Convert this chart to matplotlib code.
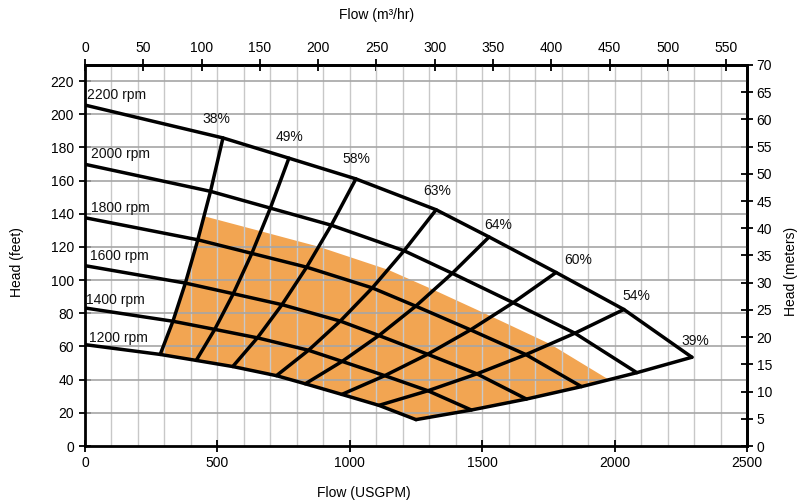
import matplotlib
matplotlib.use('Agg')
import matplotlib.pyplot as plt
import numpy as np

plt.rcParams['font.family'] = ['Liberation Sans', 'DejaVu Sans']
plt.rcParams['font.size'] = 10

# ---- data (flow USGPM, head ft) ----
speeds = [2200, 2000, 1800, 1600, 1400, 1200]
# index 0 = shut-off, then points at efficiency 38,49,58,63,64,60,54,39 %
eff_labels = ['38%', '49%', '58%', '63%', '64%', '60%', '54%', '39%']

flow_2200 = [0, 521, 770, 1023, 1326, 1526, 1779, 2035, 2292]
head_2200 = [205.5, 185.7, 173.5, 161.0, 142.4, 126.0, 104.6, 82.3, 53.5]
flow_2000 = [0, 474, 700, 930, 1205, 1387, 1617, 1850, 2084]
head_2000 = [169.8, 153.5, 143.4, 133.1, 117.7, 104.1, 86.4, 68.0, 44.2]
flow_1800 = [0, 426, 630, 837, 1085, 1249, 1456, 1665, 1875]
head_1800 = [137.6, 124.3, 116.1, 107.8, 95.3, 84.3, 70.0, 55.1, 35.8]
flow_1600 = [0, 379, 560, 744, 964, 1110, 1294, 1480, 1667]
head_1600 = [108.7, 98.2, 91.8, 85.2, 75.3, 66.6, 55.3, 43.5, 28.3]
flow_1400 = [0, 332, 490, 651, 844, 971, 1132, 1295, 1459]
head_1400 = [83.2, 75.2, 70.3, 65.2, 57.7, 51.0, 42.4, 33.3, 21.7]
flow_1200 = [0, 284, 420, 558, 723, 832, 970, 1110, 1250]
head_1200 = [61.1, 55.2, 51.6, 47.9, 42.4, 37.5, 31.1, 24.5, 15.9]

# upper edge of the shaded (orange) operating region
flow_region_top = [450, 665, 883, 1145, 1318, 1536, 1757, 1979]
head_region_top = [138.5, 129.4, 120.1, 106.2, 94.0, 78.0, 61.4, 39.9]

flows = [flow_2200, flow_2000, flow_1800, flow_1600, flow_1400, flow_1200]
heads = [head_2200, head_2000, head_1800, head_1600, head_1400, head_1200]

FT_PER_M = 1 / 0.3048
GPM_PER_M3H = 4.4029

# ---- figure ----
fig = plt.figure(figsize=(7.99, 5.04), dpi=100)
ax = fig.add_axes([85/799, 1-446/504, (747-85)/799, (446-65)/504])
ax.set_xlim(0, 2500)
ax.set_ylim(0, 70 * FT_PER_M)

# grid
for gx in np.arange(100, 2500, 100):
    ax.axvline(gx, color='#c8c8c8', lw=1.0, zorder=1.5)
for gy in np.arange(20, 230, 20):
    ax.axhline(gy, color='#a6a6a6', lw=1.2, zorder=1.6)

# shaded region
f12 = np.array(flow_1200); h12 = np.array(head_1200)
poly_x = [flows[k][1] for k in range(5, 1, -1)] + flow_region_top + \
         [flows[k][-1] for k in range(2, 6)] + list(f12[-2:0:-1])
poly_y = [heads[k][1] for k in range(5, 1, -1)] + head_region_top + \
         [heads[k][-1] for k in range(2, 6)] + list(h12[-2:0:-1])
ax.fill(poly_x, poly_y, color='#F2A552', lw=0, zorder=1)

lw = 2.5
# speed curves
for fq, hd in zip(flows, heads):
    ax.plot(fq, hd, color='black', lw=lw, zorder=3, solid_capstyle='round',
            solid_joinstyle='round')
# iso-efficiency lines
for k in range(1, 9):
    ax.plot([f[k] for f in flows], [h[k] for h in heads], color='black', lw=lw,
            zorder=3, solid_capstyle='round', solid_joinstyle='round')

# rpm labels
rpm_off = [(2, 10), (6, 10), (6, 10), (5, 10), (1, 8), (4, 7)]
for sp, hd, off in zip(speeds, heads, rpm_off):
    ax.annotate(f'{sp} rpm', xy=(0, hd[0]), xytext=off, textcoords='offset pixels',
                ha='left', va='center', fontsize=10, color='#111111', zorder=4)

# efficiency labels
eff_off = [(-7, 19), (1, 21), (0, 20), (1, 19), (9, 12), (22, 12), (13, 13), (3, 16)]
for k, (lab, off) in enumerate(zip(eff_labels, eff_off), start=1):
    ax.annotate(lab, xy=(flow_2200[k], head_2200[k]), xytext=off,
                textcoords='offset pixels', ha='center', va='center',
                fontsize=10, color='#111111', zorder=4)

# axes styling
ax.set_xticks(range(0, 2501, 500))
ax.set_yticks(range(0, 221, 20))
for s in ax.spines.values():
    s.set_linewidth(2)
ax.tick_params(direction='inout', length=8, width=1.3, labelsize=10, colors='black')
ax.tick_params(axis='x', pad=3)
ax.tick_params(axis='y', pad=4)

top = ax.secondary_xaxis('top', functions=(lambda q: q / GPM_PER_M3H,
                                           lambda m: m * GPM_PER_M3H))
top.set_xticks(range(0, 551, 50))
top.tick_params(direction='inout', length=8, width=1.3, labelsize=10, pad=3)
top.spines['top'].set_linewidth(2)

right = ax.secondary_yaxis('right', functions=(lambda f: f / FT_PER_M,
                                               lambda m: m * FT_PER_M))
right.set_yticks(range(0, 71, 5))
right.tick_params(direction='inout', length=8, width=1.3, labelsize=10, pad=3)
right.spines['right'].set_linewidth(2)

fig.text(364/799, 1-493/504, 'Flow (USGPM)', ha='center', va='center', fontsize=10)
fig.text(377/799, 1-15/504, 'Flow (m³/hr)', ha='center', va='center', fontsize=10)
fig.text(17/799, 1-262/504, 'Head (feet)', ha='center', va='center', fontsize=10,
         rotation=90)
fig.text(791/799, 1-271/504, 'Head (meters)', ha='center', va='center', fontsize=10,
         rotation=90)

fig.savefig('out.png', dpi=100)
